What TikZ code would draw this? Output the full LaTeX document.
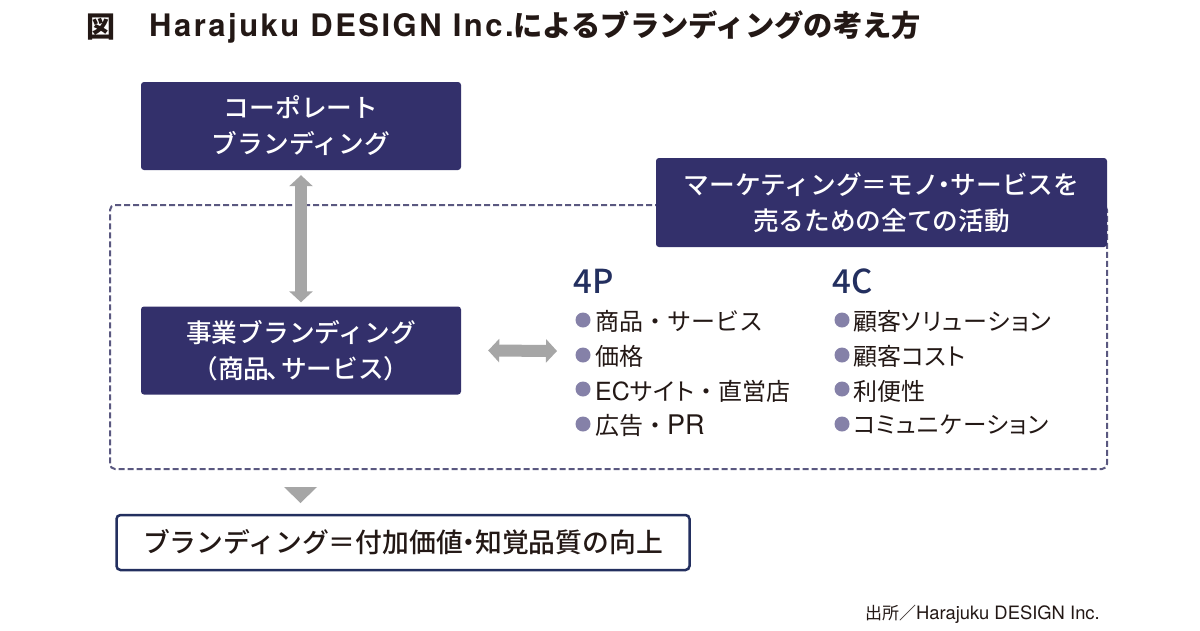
\documentclass[tikz,border=0pt]{standalone}
\usepackage{fontspec}
\usetikzlibrary{arrows.meta}
\setmainfont{Noto Sans CJK JP}
\newfontfamily\medfont{Noto Sans CJK JP Medium}
\newfontfamily\tightfont[RawFeature=+palt,LetterSpace=4]{Noto Sans CJK JP}
\newfontfamily\latinfont{TeX Gyre Heros}
\newfontfamily\latintitle[LetterSpace=8]{TeX Gyre Heros Bold}
\newcommand{\narrowdot}{\kern-.27em・\kern-.27em}
\definecolor{navybox}{HTML}{33306B}
\definecolor{navyhead}{HTML}{232F5F}
\definecolor{dashnavy}{HTML}{5A5880}
\definecolor{dotviolet}{HTML}{8581A8}
\definecolor{arrowgrey}{HTML}{A6A6A6}
\definecolor{inkblack}{HTML}{231815}
\tikzset{
  brandbox/.style={rectangle,fill=navybox,rounded corners=3pt,text=white,align=center,minimum width=320pt,minimum height=88pt,inner sep=0pt,font=\medfont\fontsize{25.7}{36}\selectfont},
  dashbox/.style={rectangle,draw=dashnavy,line width=2pt,dash pattern=on 6pt off 3pt,rounded corners=5pt,minimum width=997pt,minimum height=264pt},
  twoway/.style={draw=arrowgrey,line width=12pt,{Triangle[length=11pt,width=23pt]}-{Triangle[length=11pt,width=23pt]}},
  headtext/.style={anchor=west,inner sep=0pt,text=navyhead,font=\medfont\fontsize{33}{36}\selectfont},
  itemtext/.style={anchor=west,inner sep=0pt,text=inkblack,font=\fontsize{24}{30}\selectfont},
  itemdot/.style={circle,fill=dotviolet,inner sep=0pt,minimum size=15pt}
}
\begin{document}
\begin{tikzpicture}[x=1pt,y=-1pt]
\useasboundingbox (0,0) rectangle (1200,630);
\fill[white] (0,0) rectangle (1200,630);

% title
\node[anchor=west,inner sep=0pt,text=inkblack,font=\bfseries\fontsize{29}{32}\selectfont] (titlemark) at (86,27) {図};
\node[anchor=west,inner sep=0pt,text=inkblack,font=\bfseries\fontsize{29.3}{32}\selectfont] (titletext) at (149,27) {{\latintitle\fontsize{31}{32}\selectfont Harajuku DESIGN Inc.}によるブランディングの考え方};

% boxes
\node[dashbox] (marketarea) at (608.5,337) {};
\node[brandbox] (corporate) at (301,126) {コーポレート\\ブランディング};
\node[brandbox] (business) at (301,350.5) {事業ブランディング\\（商品\kern-.1em 、\kern-.45em サービス）};
\node[brandbox,minimum width=451pt,minimum height=89pt] (marketing) at (881.5,202.5) {マーケティング＝モノ\narrowdot サービスを\\売るための全ての活動};
\node[rectangle,draw=navyhead,line width=2.5pt,fill=white,rounded corners=4pt,minimum width=573pt,minimum height=55pt,inner sep=0pt,text=inkblack,font=\medfont\fontsize{26.8}{30}\selectfont] (result) at (403,542.5) {ブランディング＝付加価値\narrowdot 知覚品質の向上};

% 4P
\node[headtext] (fourp) at (573,281) {4P};
\node[itemdot] (pdot1) at (583,320) {};
\node[itemdot] (pdot2) at (583,355) {};
\node[itemdot] (pdot3) at (583,389) {};
\node[itemdot] (pdot4) at (583,424) {};
\node[itemtext] (pitem1) at (595,321) {商品・サービス};
\node[itemtext] (pitem2) at (595,356) {価格};
\node[itemtext] (pitem3) at (595,391) {{\latinfont\fontsize{25}{30}\selectfont EC}{\tightfont サイト}・直営店};
\node[itemtext] (pitem4) at (595,425) {広告・{\latinfont\fontsize{27}{30}\selectfont PR}};

% 4C
\node[headtext] (fourc) at (832,281) {4C};
\node[itemdot] (cdot1) at (842,320) {};
\node[itemdot] (cdot2) at (842,355) {};
\node[itemdot] (cdot3) at (842,389) {};
\node[itemdot] (cdot4) at (842,424) {};
\node[itemtext] (citem1) at (853,321) {顧客{\tightfont ソリューション}};
\node[itemtext] (citem2) at (853,356) {顧客{\tightfont コスト}};
\node[itemtext] (citem3) at (853,391) {利便性};
\node[itemtext,font=\fontsize{23.5}{30}\selectfont] (citem4) at (853,425) {{\tightfont コミュニケーション}};

% source
\node[anchor=east,inner sep=0pt,text=inkblack,font=\fontsize{17}{20}\selectfont] (source) at (1100,614) {出所／{\latinfont\fontsize{18.4}{20}\selectfont Harajuku DESIGN Inc.}};

% arrows
\coordinate (listside) at (557,351);
\draw[twoway] ([yshift=-5pt]corporate.south) -- ([yshift=4pt]business.north);
\draw[twoway] ([xshift=27pt]business.east) -- (listside);
\fill[arrowgrey] (284,487) -- (317,487) -- (300.5,503) -- cycle;
\end{tikzpicture}
\end{document}
